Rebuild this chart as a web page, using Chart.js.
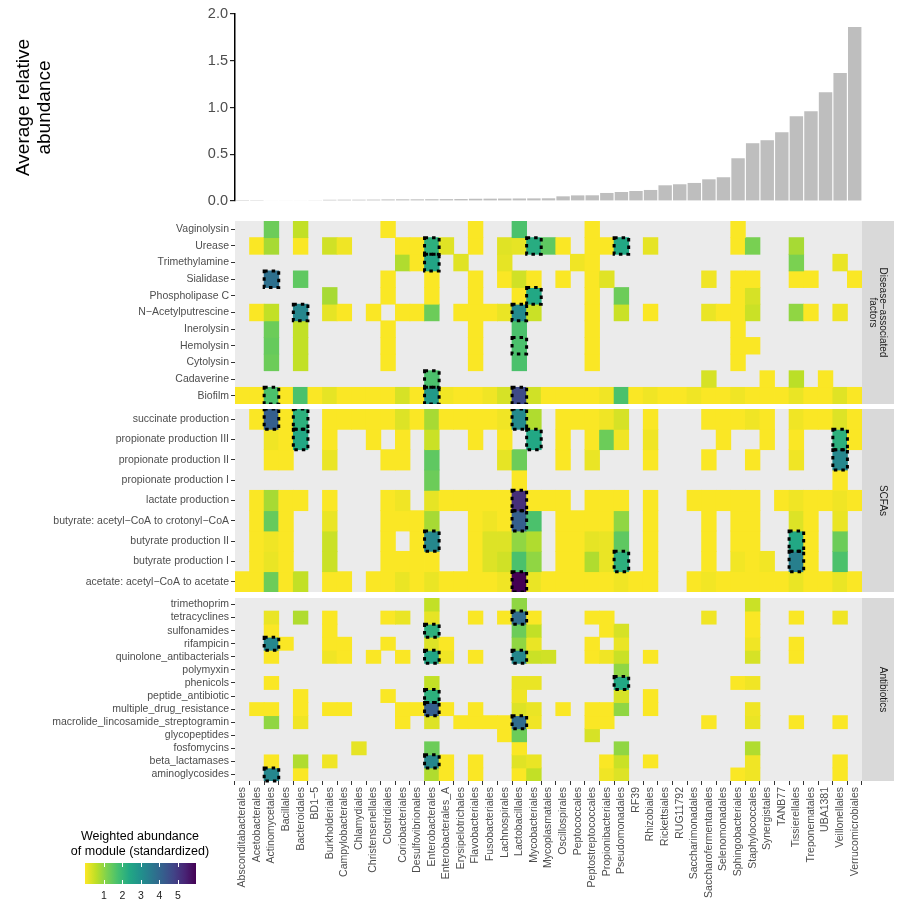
<!DOCTYPE html>
<html>
<head>
<meta charset="utf-8">
<title>Module abundance by order</title>
<script src="https://cdn.jsdelivr.net/npm/chart.js@4"></script>
<style>
  body { margin: 0; background: #fff; font-family: "Liberation Sans", Arial, sans-serif; }
  #wrap { position: relative; width: 904px; height: 908px; overflow: hidden; }
  #wrap canvas { position: absolute; left: 0; }
  .ltitle { position: absolute; left: 40px; width: 200px; top: 829px; text-align: center;
            font-size: 12.5px; line-height: 15px; color: #000; }
  #lbar { position: absolute; left: 85px; top: 863px; width: 111px; height: 21px; }
  .ltick { position: absolute; width: 1px; height: 4px; background: #fff; }
  .llab { position: absolute; top: 889px; width: 20px; margin-left: -10px; text-align: center;
          font-size: 10.5px; color: #1a1a1a; }
</style>
</head>
<body>
<div id="wrap">
  <canvas id="bars" width="904" height="215" style="top:0"></canvas>
  <canvas id="p1" width="904" height="183" style="top:221px"></canvas>
  <canvas id="p2" width="904" height="183" style="top:409px"></canvas>
  <canvas id="p3" width="904" height="306" style="top:598px"></canvas>
  <div class="ltitle">Weighted abundance<br>of module (standardized)</div>
  <div id="lbar"></div>
</div>
<script>
// ---- data ----
const orders = ['Absconditabacterales','Acetobacterales','Actinomycetales','Bacillales','Bacteroidales','BD1−5',
  'Burkholderiales','Campylobacterales','Chlamydiales','Christensenellales','Clostridiales','Coriobacteriales',
  'Desulfovibrionales','Enterobacterales','Enterobacterales_A','Erysipelotrichales','Flavobacteriales','Fusobacteriales',
  'Lachnospirales','Lactobacillales','Mycobacteriales','Mycoplasmatales','Oscillospirales','Peptococcales',
  'Peptostreptococcales','Propionibacteriales','Pseudomonadales','RF39','Rhizobiales','Rickettsiales','RUG11792',
  'Saccharimonadales','Saccharofermentanales','Selenomonadales','Sphingobacteriales','Staphylococcales','Synergistales',
  'TANB77','Tissierellales','Treponematales','UBA1381','Veillonellales','Verrucomicrobiales'];

// top panel, one bar per column
const abundance = [0.002,0.003,0.006,0.007,0.007,0.008,0.013,0.014,0.014,0.015,0.017,0.018,0.018,0.019,0.02,
  0.021,0.024,0.025,0.026,0.027,0.028,0.029,0.05,0.06,0.061,0.086,0.096,0.107,0.118,0.168,0.179,0.193,0.232,
  0.254,0.457,0.618,0.65,0.736,0.907,0.96,1.164,1.368,1.86];
const abundanceTicks = [0, 0.5, 1, 1.5, 2];

// heatmap rows: {column index: standardized weighted abundance}
const diseaseNames = ['Vaginolysin','Urease','Trimethylamine','Sialidase','Phospholipase C','N−Acetylputrescine',
  'Inerolysin','Hemolysin','Cytolysin','Cadaverine','Biofilm'];
const diseaseRows = [
  {2:1.36, 4:0.55, 10:0.03, 16:0.03, 19:1.72, 24:0.03, 34:0.03},
  {1:0.03, 2:0.8, 4:0.03, 6:0.42, 7:0.12, 11:0.03, 12:0.03, 13:2.2, 14:0.27, 16:0.03, 18:0.27, 19:0.22, 20:2.3,
   21:1.5, 22:0.03, 24:0.03, 25:0.03, 26:2.4, 28:0.22, 34:0.03, 35:1.22, 38:0.8},
  {11:0.72, 12:0.03, 13:2.5, 15:0.27, 18:0.22, 23:0.12, 24:0.03, 38:1.2, 41:0.18},
  {2:3.8, 4:1.5, 10:0.03, 13:0.03, 16:0.03, 18:0.03, 19:0.42, 20:0.03, 22:0.03, 24:0.03, 25:0.27, 32:0.12,
   34:0.03, 35:0.03, 38:0.03, 39:0.03, 42:0.03},
  {6:0.8, 10:0.03, 13:0.03, 16:0.03, 19:0.03, 20:2.4, 24:0.03, 26:1.36, 34:0.03, 35:0.37},
  {1:0.03, 2:0.55, 4:3.24, 6:0.22, 7:0.03, 9:0.03, 11:0.03, 12:0.03, 13:1.36, 15:0.03, 16:0.03, 17:0.03,
   18:0.18, 19:3.17, 20:0.48, 24:0.03, 26:0.48, 28:0.03, 32:0.18, 33:0.03, 34:0.03, 35:0.48, 38:1.0, 39:0.03,
   41:0.12},
  {2:1.36, 4:0.55, 10:0.03, 16:0.03, 19:1.72, 24:0.03, 34:0.03},
  {2:1.42, 4:0.55, 10:0.03, 16:0.03, 19:1.72, 24:0.03, 34:0.03, 35:0.03},
  {2:1.36, 4:0.55, 10:0.03, 16:0.03, 19:1.72, 24:0.03, 34:0.03},
  {13:1.72, 32:0.37, 36:0.03, 38:0.62, 40:0.03},
  {0:0.03, 1:0.03, 2:1.72, 3:0.03, 4:1.72, 5:0.03, 6:0.22, 7:0.03, 8:0.03, 9:0.03, 10:0.03, 11:0.37, 12:0.03,
   13:2.8, 14:0.1, 15:0.03, 16:0.03, 17:0.12, 18:0.37, 19:4.67, 20:0.42, 21:0.03, 22:0.03, 23:0.03, 24:0.03,
   25:0.12, 26:1.72, 27:0.03, 28:0.12, 29:0.03, 30:0.03, 31:0.12, 32:0.03, 33:0.03, 34:0.12, 35:0.03, 36:0.03,
   37:0.03, 38:0.18, 39:0.03, 40:0.03, 41:0.27, 42:0.03}
];
const diseaseMarks = [[1,13],[1,20],[1,26],[2,13],[3,2],[4,20],[5,4],[5,19],[7,19],[9,13],[10,2],[10,13],[10,19]];

const scfaNames = ['succinate production','propionate production III','propionate production II',
  'propionate production I','lactate production','butyrate: acetyl−CoA to crotonyl−CoA','butyrate production II',
  'butyrate production I','acetate: acetyl−CoA to acetate'];
const scfaRows = [
  {1:0.03, 2:4.2, 3:0.03, 4:2.2, 6:0.03, 7:0.03, 8:0.03, 9:0.03, 10:0.03, 11:0.3, 12:0.03, 13:0.8, 14:0.03,
   15:0.03, 16:0.03, 17:0.03, 18:0.12, 19:3.17, 20:0.72, 22:0.03, 23:0.03, 24:0.03, 25:0.12, 26:0.37, 28:0.03,
   32:0.03, 33:0.03, 34:0.03, 35:0.12, 36:0.03, 38:0.12, 39:0.03, 40:0.03, 41:0.3, 42:0.03},
  {2:0.12, 3:0.03, 4:2.4, 6:0.03, 9:0.03, 11:0.03, 13:0.48, 16:0.03, 18:0.03, 20:2.4, 22:0.03, 24:0.03,
   25:1.36, 26:0.12, 28:0.12, 33:0.03, 36:0.03, 38:0.03, 41:2.2, 42:0.03},
  {2:0.03, 3:0.03, 6:0.18, 10:0.03, 11:0.03, 13:1.5, 18:0.22, 19:1.36, 22:0.03, 24:0.18, 28:0.03, 32:0.03,
   35:0.03, 38:0.12, 41:3.24},
  {13:1.36, 19:0.03, 41:0.03},
  {1:0.03, 2:0.8, 3:0.03, 4:0.03, 6:0.03, 10:0.03, 11:0.12, 13:0.22, 14:0.03, 15:0.03, 16:0.03, 17:0.03,
   18:0.03, 19:5.2, 20:0.03, 21:0.03, 22:0.03, 24:0.03, 25:0.03, 26:0.03, 28:0.03, 31:0.03, 32:0.03, 33:0.03,
   34:0.03, 35:0.03, 37:0.03, 38:0.12, 39:0.03, 40:0.03, 41:0.12, 42:0.03},
  {1:0.03, 2:1.42, 3:0.03, 6:0.18, 10:0.03, 11:0.03, 12:0.03, 13:0.8, 16:0.03, 17:0.12, 18:0.03, 19:4.2,
   20:1.72, 22:0.03, 23:0.03, 24:0.03, 25:0.03, 26:1.0, 28:0.03, 32:0.03, 34:0.03, 35:0.03, 38:0.3, 39:0.03,
   41:0.18},
  {1:0.03, 2:0.12, 3:0.03, 6:0.48, 10:0.03, 12:0.03, 13:3.24, 16:0.03, 17:0.3, 18:0.3, 19:1.0, 20:0.72,
   22:0.03, 23:0.03, 24:0.22, 25:0.18, 26:1.5, 28:0.03, 32:0.03, 34:0.03, 35:0.03, 38:2.4, 39:0.03, 41:1.36},
  {1:0.03, 2:0.18, 3:0.03, 6:0.48, 10:0.03, 11:0.03, 12:0.03, 13:0.03, 16:0.03, 17:0.3, 18:0.42, 19:1.72,
   20:1.0, 22:0.03, 23:0.03, 24:0.72, 25:0.18, 26:2.2, 28:0.03, 32:0.03, 34:0.1, 35:0.03, 36:0.1, 38:3.43,
   39:0.03, 41:1.72},
  {0:0.03, 1:0.03, 2:1.36, 3:0.03, 4:0.55, 6:0.03, 7:0.03, 9:0.03, 10:0.03, 11:0.18, 12:0.03, 13:0.18,
   14:0.03, 15:0.03, 16:0.03, 17:0.03, 18:0.12, 19:6.0, 20:0.18, 21:0.03, 22:0.03, 23:0.03, 24:0.03, 25:0.03,
   26:0.12, 27:0.03, 28:0.03, 31:0.03, 32:0.1, 33:0.03, 34:0.03, 35:0.03, 36:0.03, 37:0.03, 38:0.18, 39:0.03,
   40:0.03, 41:0.18, 42:0.03}
];
const scfaMarks = [[0,2],[0,4],[0,19],[1,4],[1,20],[1,41],[2,41],[4,19],[5,19],[6,13],[6,38],[7,26],[7,38],[8,19]];

const abxNames = ['trimethoprim','tetracyclines','sulfonamides','rifampicin','quinolone_antibacterials','polymyxin',
  'phenicols','peptide_antibiotic','multiple_drug_resistance','macrolide_lincosamide_streptogramin','glycopeptides',
  'fosfomycins','beta_lactamases','aminoglycosides'];
const abxRows = [
  {13:0.55, 19:1.0, 35:0.48},
  {2:0.18, 4:0.72, 6:0.03, 10:0.03, 11:0.18, 13:0.22, 16:0.03, 18:0.03, 19:3.9, 20:0.03, 24:0.03, 25:0.03,
   32:0.12, 35:0.03, 38:0.03, 41:0.12},
  {2:0.03, 6:0.03, 13:2.2, 19:1.36, 20:0.55, 25:0.03, 26:0.37, 35:0.03},
  {2:3.24, 3:0.03, 6:0.03, 7:0.03, 10:0.03, 13:0.3, 14:0.03, 19:1.0, 20:0.18, 24:0.03, 26:0.18, 35:0.12, 38:0.03},
  {2:0.03, 6:0.12, 7:0.03, 9:0.03, 11:0.03, 13:2.5, 14:0.12, 16:0.03, 19:3.24, 20:0.48, 21:0.42, 24:0.03,
   25:0.12, 26:0.48, 28:0.03, 35:0.37, 38:0.03},
  {26:1.0},
  {2:0.03, 13:0.55, 19:0.18, 20:0.18, 26:2.4, 34:0.03, 35:0.12},
  {4:0.03, 10:0.03, 13:2.2, 19:0.12, 26:0.37, 28:0.03},
  {1:0.03, 2:0.03, 4:0.03, 6:0.03, 7:0.03, 11:0.03, 12:0.03, 13:4.2, 14:0.03, 16:0.03, 19:0.3, 20:0.18,
   22:0.03, 24:0.03, 25:0.03, 26:1.0, 28:0.03, 35:0.12},
  {2:1.0, 4:0.12, 11:0.03, 13:0.3, 15:0.03, 16:0.03, 17:0.03, 18:0.03, 19:3.9, 20:0.12, 24:0.03, 25:0.03,
   32:0.03, 35:0.18, 38:0.03, 41:0.03},
  {18:0.03, 19:1.36, 24:0.37},
  {8:0.22, 13:1.36, 19:0.03, 26:1.0, 35:0.72},
  {2:0.03, 4:0.72, 6:0.12, 13:3.24, 14:0.03, 16:0.03, 19:0.27, 20:0.18, 25:0.03, 26:0.48, 28:0.03, 35:0.12,
   41:0.03},
  {2:3.24, 4:0.03, 13:0.72, 14:0.03, 16:0.03, 19:0.03, 20:0.55, 25:0.12, 26:0.3, 34:0.03, 35:0.12, 41:0.03}
];
const abxMarks = [[1,19],[2,13],[3,2],[4,13],[4,19],[6,26],[7,13],[8,13],[9,19],[12,13],[13,2]];

const legendTicks = [1, 2, 3, 4, 5];
const colorMax = 6;

// ---- helpers ----
Chart.defaults.font.family = '"Liberation Sans", Arial, sans-serif';
const viridis = ['#440154','#482475','#414487','#355f8d','#2a788e','#21918c','#22a884','#44bf70','#7ad151','#bddf26','#fde725'];
const rgb = h => [1, 3, 5].map(i => parseInt(h.slice(i, i + 2), 16));
function fillFor(v) {
  const t = Math.min(1, Math.max(0, 1 - v / colorMax)) * (viridis.length - 1);
  const i = Math.min(Math.floor(t), viridis.length - 2), f = t - i;
  const a = rgb(viridis[i]), b = rgb(viridis[i + 1]);
  return 'rgb(' + a.map((x, k) => Math.round(x + (b[k] - x) * f)).join(',') + ')';
}

const panelBg = {
  id: 'panelBg',
  beforeDatasetsDraw(chart) {
    const { ctx, chartArea: a } = chart;
    ctx.save();
    ctx.fillStyle = '#ebebeb';
    ctx.fillRect(a.left, a.top, a.right - a.left, a.bottom - a.top);
    ctx.restore();
  }
};

const marks = {
  id: 'marks',
  afterDatasetsDraw(chart, args, opts) {
    const { ctx, scales: { x, y } } = chart;
    const half = (x.getPixelForValue(1) - x.getPixelForValue(0)) / 2;
    ctx.save();
    ctx.strokeStyle = '#000';
    ctx.lineWidth = 3;
    ctx.setLineDash([3.5, 4]);
    (opts.cells || []).forEach(([r, c]) => {
      const x0 = x.getPixelForValue(c) - half;
      const y0 = y.getPixelForValue(r), y1 = y.getPixelForValue(r + 1);
      ctx.strokeRect(x0, y0, 2 * half, y1 - y0);
    });
    ctx.restore();
  }
};

const strip = {
  id: 'strip',
  afterDraw(chart, args, opts) {
    const { ctx, chartArea: a } = chart;
    ctx.save();
    ctx.fillStyle = '#d9d9d9';
    ctx.fillRect(a.right, a.top, 32, a.bottom - a.top);
    ctx.fillStyle = '#1a1a1a';
    ctx.font = '10px "Liberation Sans", Arial, sans-serif';
    ctx.textAlign = 'center';
    ctx.textBaseline = 'middle';
    ctx.translate(a.right + 21, (a.top + a.bottom) / 2);
    ctx.rotate(Math.PI / 2);
    (opts.lines || []).forEach((t, i) => ctx.fillText(t, 0, i * 10.7));
    ctx.restore();
  }
};

// ---- top bar chart ----
new Chart(document.getElementById('bars'), {
  type: 'bar',
  data: {
    labels: orders,
    datasets: [{ data: abundance, backgroundColor: '#bebebe', barPercentage: 0.92, categoryPercentage: 1 }]
  },
  options: {
    responsive: false, animation: false,
    layout: { padding: { top: 14, bottom: 14, left: 0, right: 42 } },
    plugins: { legend: { display: false }, tooltip: { enabled: false } },
    scales: {
      x: { display: false },
      y: {
        min: 0, max: 2,
        afterBuildTicks: s => { s.ticks = abundanceTicks.map(v => ({ value: v })); },
        afterFit: s => { s.width = 235; s.paddingTop = 0; s.paddingBottom = 0; },
        border: { display: true, color: '#000', width: 1.5 },
        grid: { drawOnChartArea: false, drawTicks: true, tickLength: 5, color: '#222', lineWidth: 1.2 },
        ticks: { color: '#4d4d4d', font: { size: 14.5 }, padding: 2, callback: v => v.toFixed(1) },
        title: {
          display: true, text: ['Average relative', 'abundance'], color: '#000',
          font: { size: 19, lineHeight: 1.1 }, padding: { top: 13.5, bottom: 0 }
        }
      }
    }
  }
});

// ---- heatmap panels ----
function heatmap(id, names, rows, cells, lines, showX) {
  new Chart(document.getElementById(id), {
    type: 'bar',
    data: {
      labels: orders,
      datasets: rows.map((row, r) => ({
        data: orders.map((_, c) => (c in row ? [r, r + 1] : null)),
        backgroundColor: orders.map((_, c) => (c in row ? fillFor(row[c]) : 'rgba(0,0,0,0)')),
        grouped: false, barPercentage: 1, categoryPercentage: 1, borderWidth: 0, inflateAmount: 0.4
      }))
    },
    options: {
      responsive: false, animation: false,
      layout: { padding: { top: 0, bottom: 0, left: 0, right: 42 } },
      plugins: { legend: { display: false }, tooltip: { enabled: false }, marks: { cells }, strip: { lines } },
      scales: {
        x: {
          display: showX,
          afterFit: s => { s.height = showX ? 123 : 0; s.paddingLeft = 0; s.paddingRight = 0; },
          border: { display: false },
          grid: { drawOnChartArea: false, drawTicks: true, tickLength: 4, color: '#333' },
          ticks: { autoSkip: false, minRotation: 90, maxRotation: 90, padding: 2, color: '#4d4d4d', font: { size: 10.5 } }
        },
        y: {
          min: 0, max: names.length, reverse: true,
          afterBuildTicks: s => { s.ticks = names.map((_, i) => ({ value: i + 0.5 })); },
          afterFit: s => { s.width = 235; s.paddingTop = 0; s.paddingBottom = 0; },
          border: { display: false },
          grid: { drawOnChartArea: false, drawTicks: true, tickLength: 4, color: '#333' },
          ticks: { autoSkip: false, color: '#4d4d4d', font: { size: 10.5 }, padding: 2,
                   callback: v => names[Math.floor(v)] }
        }
      }
    },
    plugins: [panelBg, marks, strip]
  });
}

heatmap('p1', diseaseNames, diseaseRows, diseaseMarks, ['Disease−associated', 'factors'], false);
heatmap('p2', scfaNames, scfaRows, scfaMarks, ['SCFAs'], false);
heatmap('p3', abxNames, abxRows, abxMarks, ['Antibiotics'], true);

// ---- colour legend ----
const lbar = document.getElementById('lbar');
lbar.style.background = 'linear-gradient(to right,' + [...viridis].reverse().join(',') + ')';
const wrap = document.getElementById('wrap');
legendTicks.forEach(v => {
  const x = 85 + v / colorMax * 111;
  [863, 880].forEach(top => {
    const t = document.createElement('div');
    t.className = 'ltick';
    t.style.left = x + 'px';
    t.style.top = top + 'px';
    wrap.appendChild(t);
  });
  const l = document.createElement('div');
  l.className = 'llab';
  l.style.left = (x + 0.5) + 'px';
  l.textContent = v;
  wrap.appendChild(l);
});
</script>
</body>
</html>
